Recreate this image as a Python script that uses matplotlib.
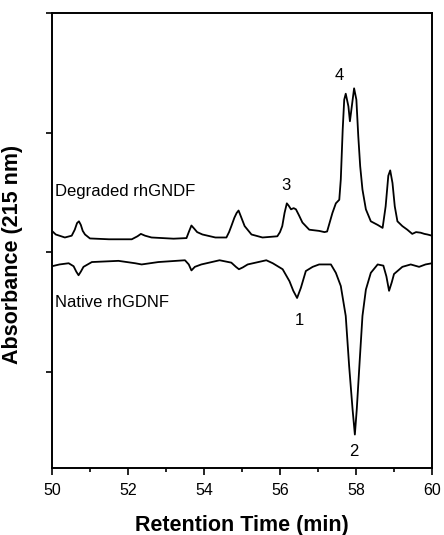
import numpy as np
import matplotlib.pyplot as plt
from matplotlib.ticker import MultipleLocator, NullFormatter

# degraded rhGDNF trace (retention time, absorbance offset)
deg_t = [50.00, 50.10, 50.34, 50.52, 50.60, 50.66, 50.71, 50.76, 50.81, 50.87,
         51.00, 51.50, 52.10, 52.25, 52.34, 52.45, 52.62, 53.20, 53.54, 53.60,
         53.67, 53.74, 53.82, 53.96, 54.30, 54.59, 54.66, 54.72, 54.80, 54.86,
         54.91, 54.96, 55.07, 55.25, 55.54, 55.93, 56.00, 56.06, 56.12, 56.18,
         56.23, 56.29, 56.36, 56.42, 56.50, 56.59, 56.77, 57.03, 57.17, 57.24,
         57.38, 57.47, 57.56, 57.60, 57.65, 57.69, 57.73, 57.80, 57.84, 57.89,
         57.95, 58.01, 58.06, 58.11, 58.17, 58.26, 58.39, 58.57, 58.70, 58.78,
         58.85, 58.90, 58.96, 59.02, 59.09, 59.22, 59.35, 59.48, 59.58, 59.70,
         59.80, 59.88, 60.00]
deg_a = [1.18, 1.15, 1.125, 1.14, 1.19, 1.245, 1.26, 1.23, 1.18, 1.15,
         1.117, 1.11, 1.11, 1.135, 1.155, 1.14, 1.125, 1.115, 1.12, 1.17,
         1.225, 1.20, 1.17, 1.15, 1.125, 1.125, 1.17, 1.22, 1.29, 1.33,
         1.35, 1.31, 1.22, 1.15, 1.125, 1.135, 1.17, 1.22, 1.33, 1.41,
         1.39, 1.36, 1.37, 1.36, 1.31, 1.25, 1.19, 1.18, 1.17, 1.175,
         1.33, 1.41, 1.44, 1.61, 2.025, 2.275, 2.325, 2.22, 2.095, 2.22,
         2.37, 2.275, 1.97, 1.72, 1.525, 1.36, 1.26, 1.23, 1.205, 1.385,
         1.64, 1.685, 1.58, 1.385, 1.26, 1.22, 1.19, 1.155, 1.17, 1.165,
         1.155, 1.15, 1.14]

# native rhGDNF trace
nat_t = [50.00, 50.20, 50.44, 50.57, 50.64, 50.70, 50.76, 50.83, 51.05, 51.75,
         52.19, 52.36, 52.80, 53.50, 53.60, 53.67, 53.76, 53.93, 54.41, 54.72,
         54.84, 54.92, 55.02, 55.15, 55.64, 55.81, 56.07, 56.25, 56.35, 56.45,
         56.55, 56.68, 56.86, 57.03, 57.34, 57.47, 57.60, 57.73, 57.82, 57.91,
         57.97, 58.02, 58.10, 58.17, 58.26, 58.39, 58.57, 58.72, 58.80, 58.87,
         58.94, 59.00, 59.22, 59.44, 59.66, 59.83, 60.00]
nat_a = [0.885, 0.90, 0.91, 0.885, 0.84, 0.81, 0.84, 0.88, 0.92, 0.93,
         0.91, 0.90, 0.92, 0.935, 0.90, 0.85, 0.88, 0.90, 0.935, 0.915,
         0.88, 0.86, 0.875, 0.90, 0.935, 0.91, 0.86, 0.76, 0.68, 0.62,
         0.705, 0.845, 0.88, 0.90, 0.90, 0.83, 0.72, 0.47, 0.05, -0.31,
         -0.52, -0.31, 0.11, 0.47, 0.69, 0.83, 0.90, 0.89, 0.80, 0.68,
         0.75, 0.82, 0.88, 0.90, 0.88, 0.90, 0.91]

# peak numbers and their label positions
peak_labels = ['1', '2', '3', '4']
peak_x = [56.51, 57.95, 56.16, 57.56]
peak_y = [0.43, -0.66, 1.56, 2.48]

fig = plt.figure(figsize=(4.44, 5.35), dpi=100)
ax = fig.add_axes([0.117, 0.125, 0.856, 0.851])

ax.plot(deg_t, deg_a, color='black', lw=1.3, solid_joinstyle='round')
ax.plot(nat_t, nat_a, color='black', lw=1.3, solid_joinstyle='round')

ax.text(50.08, 1.51, 'Degraded rhGNDF', fontsize=12, va='center', ha='left',
        family='Liberation Sans')
ax.text(50.08, 0.583, 'Native rhGDNF', fontsize=12, va='center', ha='left',
        family='Liberation Sans')
for lab, px, py in zip(peak_labels, peak_x, peak_y):
    ax.text(px, py, lab, fontsize=12, ha='center', va='center',
            family='Liberation Sans')

ax.set_xlim(50, 60)
ax.set_ylim(-0.8, 3)
ax.xaxis.set_major_locator(MultipleLocator(2))
ax.xaxis.set_minor_locator(MultipleLocator(1))
ax.yaxis.set_major_locator(MultipleLocator(1))
ax.yaxis.set_major_formatter(NullFormatter())
ax.tick_params(axis='x', which='major', length=5, width=1.2, direction='out',
               labelsize=11.5, pad=6)
ax.tick_params(axis='x', which='minor', length=3, width=1.2, direction='out')
ax.tick_params(axis='y', length=4, width=1.2, direction='out')
for lab in ax.get_xticklabels():
    lab.set_family('Liberation Sans')
for s in ax.spines.values():
    s.set_linewidth(1.4)

ax.set_xlabel('Retention Time (min)', fontsize=15.5, fontweight='bold',
              family='Liberation Sans', labelpad=12)
ax.set_ylabel('Absorbance (215 nm)', fontsize=15.5, fontweight='bold',
              family='Liberation Sans')
ax.yaxis.set_label_coords(-0.075, 0.47)

fig.savefig('out.png', dpi=100)
